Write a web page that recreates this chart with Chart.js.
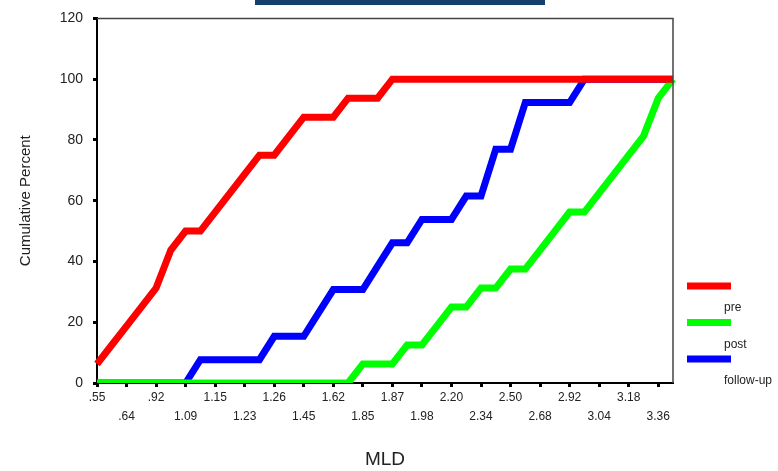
<!DOCTYPE html>
<html lang="en">
<head>
<meta charset="UTF-8">
<title>MLD cumulative percent</title>
<script src="https://cdn.jsdelivr.net/npm/chart.js"></script>
<style>
  body { margin: 0; background: #fff; }
  .wrap { position: relative; width: 778px; height: 471px; }
  .topbar { position: absolute; left: 255px; top: 0; width: 290px; height: 5px; background: #123f6b; }
  canvas { position: absolute; left: 0; top: 0; }
</style>
</head>
<body>
<div class="wrap">
  <canvas id="cumChart" width="778" height="471"></canvas>
  <div class="topbar"></div>
</div>
<script>
// labelled MLD values (the axis shows every other category)
const tickLabels = ['.55', '.64', '.92', '1.09', '1.15', '1.23', '1.26', '1.45', '1.62', '1.85',
                    '1.87', '1.98', '2.20', '2.34', '2.50', '2.68', '2.92', '3.04', '3.18', '3.36'];
const categories = tickLabels.flatMap(l => [l, '']);

// cumulative percent per category
const pre = [6.25, 12.5, 18.75, 25, 31.25, 43.75, 50, 50, 56.25, 62.5,
             68.75, 75, 75, 81.25, 87.5, 87.5, 87.5, 93.75, 93.75, 93.75,
             100, 100, 100, 100, 100, 100, 100, 100, 100, 100,
             100, 100, 100, 100, 100, 100, 100, 100, 100, 100];
const post = [0, 0, 0, 0, 0, 0, 0, 0, 0, 0,
              0, 0, 0, 0, 0, 0, 0, 0, 6.25, 6.25,
              6.25, 12.5, 12.5, 18.75, 25, 25, 31.25, 31.25, 37.5, 37.5,
              43.75, 50, 56.25, 56.25, 62.5, 68.75, 75, 81.25, 93.75, 100];
const followUp = [0, 0, 0, 0, 0, 0, 0, 7.69, 7.69, 7.69,
                  7.69, 7.69, 15.38, 15.38, 15.38, 23.08, 30.77, 30.77, 30.77, 38.46,
                  46.15, 46.15, 53.85, 53.85, 53.85, 61.54, 61.54, 76.92, 76.92, 92.31,
                  92.31, 92.31, 92.31, 100, 100, 100, 100, 100, 100, 100];

Chart.defaults.font.family = "'Liberation Sans', Arial, sans-serif";
Chart.defaults.color = '#222';

// box round the plot (top and right sides)
const framePlugin = {
  id: 'frame',
  afterDraw(chart) {
    const { ctx, chartArea: a } = chart;
    ctx.save();
    ctx.strokeStyle = '#444';
    ctx.lineWidth = 1.5;
    ctx.beginPath();
    ctx.moveTo(a.left, a.top);
    ctx.lineTo(a.right, a.top);
    ctx.lineTo(a.right, a.bottom);
    ctx.stroke();
    ctx.restore();
  }
};

// legend: swatch, label below it to the right
const sideLegend = {
  id: 'sideLegend',
  afterDraw(chart) {
    const ctx = chart.ctx;
    ctx.save();
    ctx.font = "12px 'Liberation Sans', Arial";
    ctx.textBaseline = 'middle';
    ctx.textAlign = 'left';
    chart.data.datasets.forEach((ds, i) => {
      const y = 286 + i * 36.5;
      ctx.fillStyle = ds.borderColor;
      ctx.fillRect(687, y - 3.5, 44, 7);
      ctx.fillStyle = '#222';
      ctx.fillText(ds.label, 724, y + 22);
    });
    ctx.restore();
  }
};

const ctx = document.getElementById('cumChart').getContext('2d');
new Chart(ctx, {
  type: 'line',
  data: {
    labels: categories,
    datasets: [
      { label: 'pre', data: pre, borderColor: '#ff0000' },
      { label: 'post', data: post, borderColor: '#00ff00' },
      { label: 'follow-up', data: followUp, borderColor: '#0000ff' }
    ]
  },
  options: {
    responsive: false,
    animation: false,
    elements: {
      line: { borderWidth: 7, tension: 0 },
      point: { radius: 0 }
    },
    layout: { padding: { top: 16, right: 105, left: 0, bottom: 0 } },
    plugins: { legend: { display: false }, tooltip: { enabled: false } },
    scales: {
      x: {
        offset: false,
        grid: { drawOnChartArea: false, tickLength: 4, tickWidth: 3, tickColor: '#000' },
        border: { color: '#000', width: 2 },
        ticks: {
          autoSkip: false, maxRotation: 0, padding: 1,
          font: { size: 12, lineHeight: 1.6 },
          callback: (v, i) => {
            if (i % 2) return null;
            const j = i / 2;
            return j % 2 ? ['', tickLabels[j]] : [tickLabels[j], ''];
          }
        },
        title: { display: true, text: 'MLD', font: { size: 19 }, padding: 0 },
        afterFit: s => { s.height = 88; }
      },
      y: {
        min: 0, max: 120,
        grid: { drawOnChartArea: false, tickLength: 4, tickWidth: 3, tickColor: '#000' },
        border: { color: '#000', width: 2 },
        ticks: { stepSize: 20, padding: 10, font: { size: 14 } },
        title: { display: true, text: 'Cumulative Percent', font: { size: 15 }, padding: { top: 17 } },
        afterFit: s => { s.width = 97; }
      }
    }
  },
  plugins: [framePlugin, sideLegend]
});
</script>
</body>
</html>
